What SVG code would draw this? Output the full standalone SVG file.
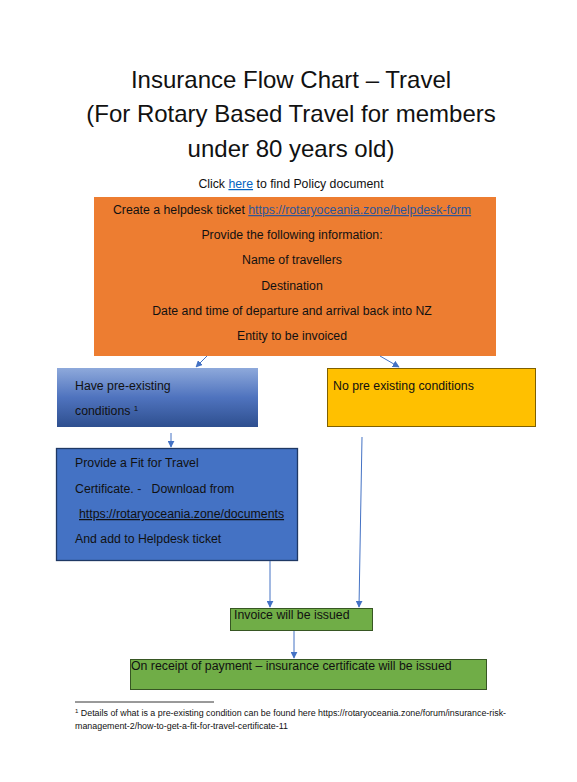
<svg xmlns="http://www.w3.org/2000/svg" width="577" height="782" viewBox="0 0 577 782">
<style>
text{font-family:"Liberation Sans",Arial,sans-serif;fill:#111;}
.title{font-size:24px;text-anchor:middle;}
.body{font-size:12.3px;}
.mid{text-anchor:middle;}
.link{fill:#2F5597;text-decoration:underline;}
.foot{font-size:8.9px;}
.conn{stroke:#4472C4;stroke-width:1;fill:none;marker-end:url(#ah);}
</style>
<defs>
<marker id="ah" viewBox="0 0 10 10" refX="9" refY="5" markerWidth="7" markerHeight="7" orient="auto" markerUnits="userSpaceOnUse">
<path d="M0,0 L10,5 L0,10 z" fill="#4472C4"/>
</marker>
<linearGradient id="gblue" x1="0" y1="0" x2="0" y2="1">
<stop offset="0" stop-color="#8EA9DB"/>
<stop offset="0.5" stop-color="#4F73BE"/>
<stop offset="1" stop-color="#2E4F8F"/>
</linearGradient>
</defs>
<rect width="577" height="782" fill="#fff"/>

<g id="title">
<text class="title" x="291" y="88">Insurance Flow Chart – Travel</text>
<text class="title" x="291" y="122">(For Rotary Based Travel for members</text>
<text class="title" x="291" y="157">under 80 years old)</text>
<text class="body mid" x="291" y="188">Click <tspan fill="#0563C1" text-decoration="underline">here</tspan> to find Policy document</text>
</g>

<g id="helpdesk">
<rect x="94" y="197" width="402" height="159" fill="#ED7D31"/>
<text class="body mid" x="292" y="214">Create a helpdesk ticket <tspan class="link">https://rotaryoceania.zone/helpdesk-form</tspan></text>
<text class="body mid" x="292" y="239">Provide the following information:</text>
<text class="body mid" x="292" y="264">Name of travellers</text>
<text class="body mid" x="292" y="290">Destination</text>
<text class="body mid" x="292" y="315">Date and time of departure and arrival back into NZ</text>
<text class="body mid" x="292" y="340">Entity to be invoiced</text>
</g>

<g id="preexisting">
<rect x="57" y="368" width="201" height="59" fill="url(#gblue)"/>
<text class="body" x="75" y="390">Have pre-existing</text>
<text class="body" x="75" y="415">conditions <tspan font-size="8" dy="-4">1</tspan></text>
</g>

<g id="nopreexisting">
<rect x="327.5" y="368.5" width="208" height="58" fill="#FFC000" stroke="#7F6000" stroke-width="1"/>
<text class="body" x="333" y="390">No pre existing conditions</text>
</g>

<g id="fitfortravel">
<rect x="56.5" y="448.5" width="241" height="112" fill="#4472C4" stroke="#1F3864" stroke-width="1.3"/>
<text class="body" x="75" y="467">Provide a Fit for Travel</text>
<text class="body" x="75" y="493" xml:space="preserve">Certificate. -   Download from</text>
<text class="body" x="79" y="518" text-decoration="underline">https://rotaryoceania.zone/documents</text>
<text class="body" x="75" y="543">And add to Helpdesk ticket</text>
</g>

<g id="invoice">
<rect x="230.5" y="608.5" width="142" height="22" fill="#70AD47" stroke="#375623" stroke-width="1"/>
<text class="body" x="234" y="619">Invoice will be issued</text>
</g>

<g id="payment">
<rect x="130.5" y="659.5" width="356" height="30" fill="#70AD47" stroke="#375623" stroke-width="1"/>
<text class="body" x="131" y="670">On receipt of payment – insurance certificate will be issued</text>
</g>

<g id="connectors">
<line class="conn" x1="207" y1="356" x2="196" y2="367"/>
<line class="conn" x1="380" y1="356" x2="399" y2="367"/>
<line class="conn" x1="171" y1="433" x2="171" y2="447"/>
<line class="conn" x1="270" y1="561" x2="270" y2="607"/>
<line class="conn" x1="362" y1="437" x2="359" y2="607"/>
<line class="conn" x1="294" y1="631" x2="294" y2="658"/>
</g>

<g id="footnote">
<line x1="75" y1="702" x2="214" y2="702" stroke="#000" stroke-width="0.8"/>
<text class="foot" x="75" y="716"><tspan font-size="6" dy="-3">1</tspan><tspan dy="3"> Details of what is a pre-existing condition can be found here https://rotaryoceania.zone/forum/insurance-risk-</tspan></text>
<text class="foot" x="75" y="729">management-2/how-to-get-a-fit-for-travel-certificate-11</text>
</g>
</svg>
